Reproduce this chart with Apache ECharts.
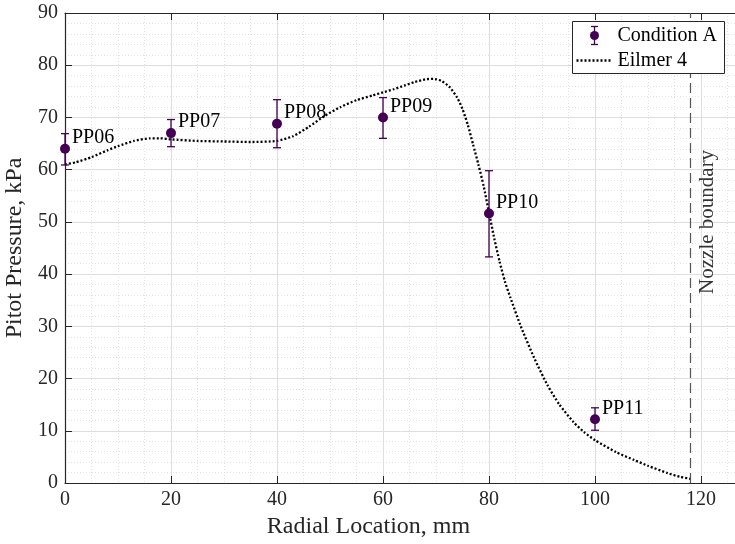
<!DOCTYPE html>
<html>
<head>
<meta charset="utf-8">
<script src="https://cdn.jsdelivr.net/npm/echarts@6/dist/echarts.min.js"></script>
<style>
  html, body { margin: 0; padding: 0; background: #fff; }
  #chart { width: 735px; height: 544px; }
</style>
</head>
<body>
<div id="chart"></div>
<script>
// Pitot probe measurements (Condition A) with uncertainty bounds
const probeNames = ['PP06', 'PP07', 'PP08', 'PP09', 'PP10', 'PP11'];
const probeRadius = [0, 20, 40, 60, 80, 100];          // mm
const probePressure = [64.0, 67.0, 68.8, 70.0, 51.6, 12.2]; // kPa
const probeLow = [60.9, 64.4, 64.2, 66.0, 43.3, 10.1];
const probeHigh = [66.9, 69.6, 73.4, 73.8, 59.8, 14.4];

// Eilmer 4 simulation profile
const simRadius = [0, 2, 5, 8, 10, 13, 16, 18, 20, 25, 30, 35, 40, 43, 46, 49, 52, 55, 58, 60,
  62, 64, 66, 68, 69.5, 71, 72.5, 74, 75, 76, 77, 78, 79, 80, 81, 82, 83, 84, 86, 88.5, 91,
  93.3, 96, 98, 100, 104, 107.4, 110, 113.7, 116, 118];
const simPressure = [61.0, 61.4, 62.4, 63.7, 64.5, 65.5, 66.0, 66.0, 65.8, 65.5, 65.4, 65.3,
  65.5, 66.4, 68.2, 70.3, 72.0, 73.3, 74.2, 74.8, 75.4, 76.1, 76.8, 77.3, 77.4, 77.0, 75.9,
  73.8, 71.6, 68.6, 64.8, 61.0, 56.8, 51.8, 46.8, 42.4, 38.6, 35.6, 30.0, 24.0, 18.8, 15.0,
  11.6, 9.7, 8.2, 5.9, 4.4, 3.3, 1.9, 1.2, 0.8];

// Nozzle exit radius
const nozzleRadius = 118;
const nozzleLabel = 'Nozzle boundary';
const nozzleLabelAt = [121.3, 50];

const xTicks = { min: 0, max: 130, interval: 20 };
const yTicks = { min: 0, max: 90, interval: 10 };

const markerColor = '#440154';
const serif = 'Liberation Serif';

const probeData = probeRadius.map((x, i) => [x, probePressure[i], probeNames[i]]);
const barData = probeRadius.map((x, i) => [x, probeLow[i], probeHigh[i]]);
const simData = simRadius.map((x, i) => [x, simPressure[i]]);

const axisColor = '#262626';
const majorGrid = { show: true, lineStyle: { color: '#dedede', width: 1 } };
const minorGrid = { show: true, lineStyle: { color: '#e4e4e4', width: 1, type: [1, 2] } };

const chart = echarts.init(document.getElementById('chart'), null, { renderer: 'canvas' });

chart.setOption({
  animation: false,
  backgroundColor: '#fff',
  // the axes run on past the right edge of the figure
  grid: { left: 65, right: -19, top: 13, bottom: 61, containLabel: false, outerBoundsMode: 'none' },
  xAxis: [{
    type: 'value', min: xTicks.min, max: xTicks.max, interval: xTicks.interval,
    name: 'Radial Location, mm', nameLocation: 'middle', nameGap: 25,
    nameTextStyle: { fontFamily: serif, fontSize: 24, color: '#262626', padding: [0, 82, 0, 0] },
    axisLine: { show: true, lineStyle: { color: axisColor, width: 1.2 } },
    axisTick: { show: true, inside: true, length: 7, lineStyle: { color: axisColor } },
    axisLabel: { fontFamily: serif, fontSize: 20, color: '#262626', margin: 7, showMaxLabel: false },
    splitLine: majorGrid,
    minorTick: { show: false, splitNumber: 4 },
    minorSplitLine: minorGrid
  }, {
    type: 'value', position: 'top', min: xTicks.min, max: xTicks.max, interval: xTicks.interval,
    axisLine: { show: true, lineStyle: { color: axisColor, width: 1.2 } },
    axisTick: { show: true, inside: true, length: 7, lineStyle: { color: axisColor } },
    axisLabel: { show: false },
    splitLine: { show: false }
  }],
  yAxis: [{
    type: 'value', min: yTicks.min, max: yTicks.max, interval: yTicks.interval,
    name: 'Pitot Pressure, kPa', nameLocation: 'middle', nameGap: 28,
    nameTextStyle: { fontFamily: serif, fontSize: 24, color: '#262626' },
    axisLine: { show: true, lineStyle: { color: axisColor, width: 1.2 } },
    axisTick: { show: true, inside: true, length: 7, lineStyle: { color: axisColor } },
    axisLabel: { fontFamily: serif, fontSize: 20, color: '#262626', margin: 7 },
    splitLine: majorGrid,
    minorTick: { show: false, splitNumber: 5 },
    minorSplitLine: minorGrid
  }],
  series: [
    {
      name: 'Eilmer 4',
      type: 'line',
      data: simData,
      showSymbol: false,
      symbol: 'none',
      smooth: 0.2,
      lineStyle: { color: '#000', width: 2.3, type: [2, 2] },
      z: 3,
      markLine: {
        silent: true,
        symbol: 'none',
        label: { show: false },
        lineStyle: { color: '#555', width: 1.2, type: [10, 5] },
        data: [{ xAxis: nozzleRadius }]
      }
    },
    {
      name: 'Condition A bars',
      type: 'custom',
      data: barData,
      z: 4,
      renderItem: function (params, api) {
        const x = api.value(0);
        const lo = api.coord([x, api.value(1)]);
        const hi = api.coord([x, api.value(2)]);
        const cap = 4;
        const style = { stroke: markerColor, lineWidth: 1.3 };
        return {
          type: 'group',
          children: [
            { type: 'line', shape: { x1: lo[0], y1: lo[1], x2: hi[0], y2: hi[1] }, style: style },
            { type: 'line', shape: { x1: lo[0] - cap, y1: lo[1], x2: lo[0] + cap, y2: lo[1] }, style: style },
            { type: 'line', shape: { x1: hi[0] - cap, y1: hi[1], x2: hi[0] + cap, y2: hi[1] }, style: style }
          ]
        };
      }
    },
    {
      name: 'Condition A',
      type: 'scatter',
      data: probeData,
      symbol: 'circle',
      symbolSize: 10,
      z: 5,
      itemStyle: { color: markerColor, opacity: 1 },
      label: {
        show: true,
        position: 'right',
        distance: 2,
        offset: [0, -11],
        formatter: function (p) { return p.data[2]; },
        fontFamily: serif,
        fontSize: 20,
        color: '#000'
      }
    },
    {
      name: 'nozzle label',
      type: 'scatter',
      data: [nozzleLabelAt],
      symbolSize: 0,
      silent: true,
      label: {
        show: true,
        position: 'inside',
        rotate: 90,
        formatter: nozzleLabel,
        fontFamily: serif,
        fontSize: 21,
        color: '#000'
      }
    }
  ],
  // legend box, drawn on top of the plot
  graphic: [{
    type: 'group',
    left: 572,
    top: 21,
    z: 100,
    children: [
      { type: 'rect', z: 100, shape: { x: 0, y: 0, width: 152, height: 52 },
        style: { fill: '#fff', stroke: '#262626', lineWidth: 1 } },
      { type: 'line', z: 101, shape: { x1: 22, y1: 5, x2: 22, y2: 23 }, style: { stroke: markerColor, lineWidth: 1.3 } },
      { type: 'line', z: 101, shape: { x1: 18.5, y1: 5, x2: 25.5, y2: 5 }, style: { stroke: markerColor, lineWidth: 1.3 } },
      { type: 'line', z: 101, shape: { x1: 18.5, y1: 23, x2: 25.5, y2: 23 }, style: { stroke: markerColor, lineWidth: 1.3 } },
      { type: 'circle', z: 101, shape: { cx: 22, cy: 14, r: 4.5 }, style: { fill: markerColor } },
      { type: 'text', z: 101, x: 45, y: 14, style: { text: 'Condition A', font: '20px "Liberation Serif"', fill: '#000', verticalAlign: 'middle' } },
      { type: 'line', z: 101, shape: { x1: 4, y1: 39, x2: 40, y2: 39 }, style: { stroke: '#000', lineWidth: 2.3, lineDash: [2, 2] } },
      { type: 'text', z: 101, x: 45, y: 39, style: { text: 'Eilmer 4', font: '20px "Liberation Serif"', fill: '#000', verticalAlign: 'middle' } }
    ]
  }]
});
</script>
</body>
</html>
